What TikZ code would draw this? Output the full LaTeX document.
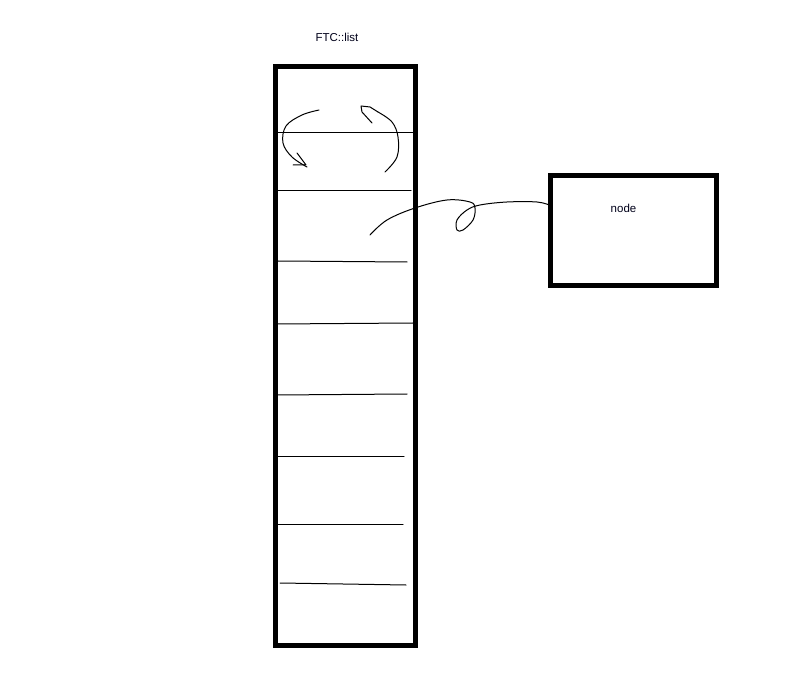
\documentclass[tikz,border=0pt]{standalone}
\usepackage{fontspec}
\setmainfont{Liberation Sans}
\begin{document}
\begin{tikzpicture}[x=1pt,y=-1pt,
  thickbox/.style={draw=black,line width=5pt,inner sep=0pt,outer sep=0pt,anchor=north west},
  pen/.style={draw=black,line width=1pt,line cap=round,line join=round},
  lbl/.style={font=\fontsize{11.5}{13}\selectfont,text=black!90!blue,inner sep=0pt}]
\useasboundingbox (0,0) rectangle (800,692);
% list box
\node[thickbox,minimum width=140pt,minimum height=579pt] (list) at (275.5,66.5) {};
% node box
\node[thickbox,minimum width=166pt,minimum height=110pt] (nodebox) at (550.5,175.5) {};
\node[lbl] (title) at (337,37) {FTC::list};
\node[lbl] (nodelabel) at (623.5,208) {node};
% cell separators
\draw[pen] (276,133) -- (413,133);
\draw[pen] (278,191) -- (411,191);
\draw[pen] (278,261) -- (407,262);
\draw[pen] (276,324) -- (413,323);
\draw[pen] (276,395) -- (407,394);
\draw[pen] (278,456) -- (404,456);
\draw[pen] (278,524) -- (403,524);
\draw[pen] (280,583) -- (406,585);
% rotating arrows in top cell
\draw[pen] plot[smooth,tension=0.6] coordinates {(319,110) (302,115) (286,126) (283,143) (292,157) (307,167)};
\draw[pen] (297,153) -- (306,165) -- (293,165);
\draw[pen] plot[smooth,tension=0.6] coordinates {(378,112) (392,122) (398,137) (397,157) (385,172)};
\draw[pen] (372,123) -- (362,112) -- (361,106) -- (370,107) -- (378,112);
% connector to node
\coordinate (start) at (370,235);
\coordinate (endpt) at ([yshift=-30pt]nodebox.north west);
\draw[pen] plot[smooth,tension=0.6] coordinates {(start) (387,220) (415,208) (447,200) (470,202) (475,208) (473,220) (463,230) (457,230) (457,220) (467,210) (480,205) (507,202) (537,202) (endpt)};
\end{tikzpicture}
\end{document}
